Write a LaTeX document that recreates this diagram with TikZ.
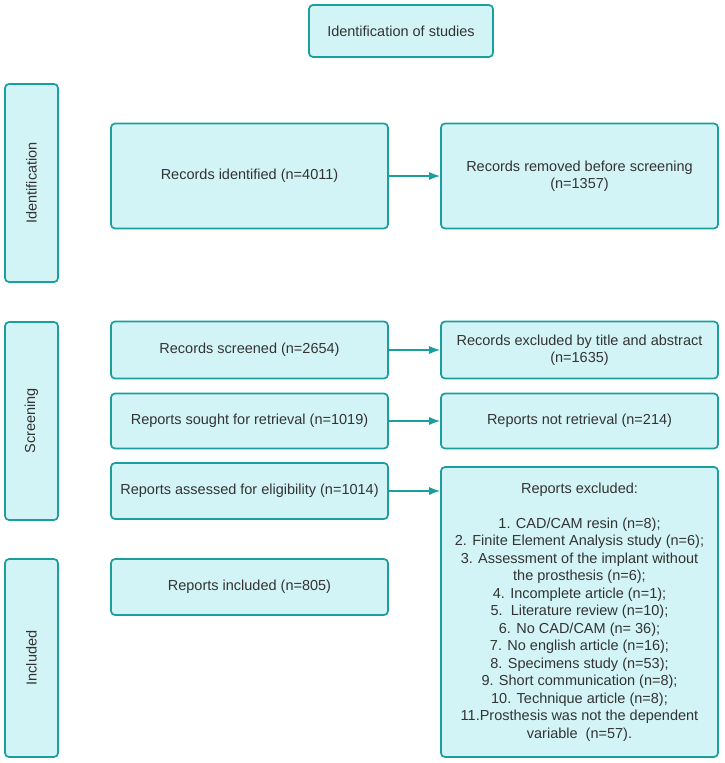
\documentclass[tikz,border=0pt]{standalone}
\usepackage{fontspec}
\setmainfont{Liberation Sans}
\usetikzlibrary{arrows.meta}
\definecolor{boxfill}{HTML}{D3F4F6}
\definecolor{boxline}{HTML}{1A9E9E}
\definecolor{boxtext}{HTML}{333333}
\begin{document}
\begin{tikzpicture}[x=1pt,y=-1pt,
  box/.style={draw=boxline,fill=boxfill,line width=1.7pt,rounded corners=4pt,
    text=boxtext,align=center,inner sep=2pt,font=\fontsize{14.5}{17.5}\selectfont},
  stage/.style={box,rotate=90,minimum width=198pt,minimum height=53pt},
  flow/.style={draw=boxline,line width=1.3pt,-{Latex[length=11pt,width=8pt]}}]
\useasboundingbox (0,0) rectangle (724,763);
% title and stages
\node [box,minimum width=184pt,minimum height=52pt] (title) at (401,31) {Identification of studies};
\node [stage] (sid) at (31.5,183) {Identification};
\node [stage] (sscr) at (31.5,421) {Screening};
\node [stage] (sinc) at (31.5,658) {Included};
% left column
\node [box,minimum width=277pt,minimum height=105pt] (ident) at (249.5,176) {Records identified (n=4011)};
\node [box,minimum width=277pt,minimum height=57pt] (screened) at (249.5,350) {Records screened (n=2654)};
\node [box,minimum width=277pt,minimum height=55pt] (sought) at (249.5,421) {Reports sought for retrieval (n=1019)};
\node [box,minimum width=277pt,minimum height=56pt] (assessed) at (249.5,491) {Reports assessed for eligibility (n=1014)};
\node [box,minimum width=277pt,minimum height=56pt] (included) at (249.5,587) {Reports included (n=805)};
% right column
\node [box,minimum width=277pt,minimum height=105pt] (removed) at (579.5,176) {Records removed before screening\\(n=1357)};
\node [box,minimum width=277pt,minimum height=57pt] (excltitle) at (579.5,350) {Records excluded by title and abstract\\(n=1635)};
\node [box,minimum width=277pt,minimum height=55pt] (notret) at (579.5,421) {Reports not retrieval (n=214)};
\node [box,minimum width=277pt,minimum height=290pt] (excluded) at (579.5,612) {Reports excluded:\\[17.5pt]
  1. CAD/CAM resin (n=8);\\
  2. Finite Element Analysis study (n=6);\\
  3. Assessment of the implant without\\
  the prosthesis (n=6);\\
  4. Incomplete article (n=1);\\
  5.\ \ Literature review (n=10);\\
  6. No CAD/CAM (n= 36);\\
  7. No english article (n=16);\\
  8. Specimens study (n=53);\\
  9. Short communication (n=8);\\
  10. Technique article (n=8);\\
  11.Prosthesis was not the dependent\\
  variable\ \ (n=57).};
% arrows
\foreach \a/\b in {ident/removed,screened/excltitle,sought/notret}{
  \draw [flow] (\a) -- (\b);
}
\draw [flow] (assessed.east) -- (assessed.east -| excluded.west);
\end{tikzpicture}
\end{document}
